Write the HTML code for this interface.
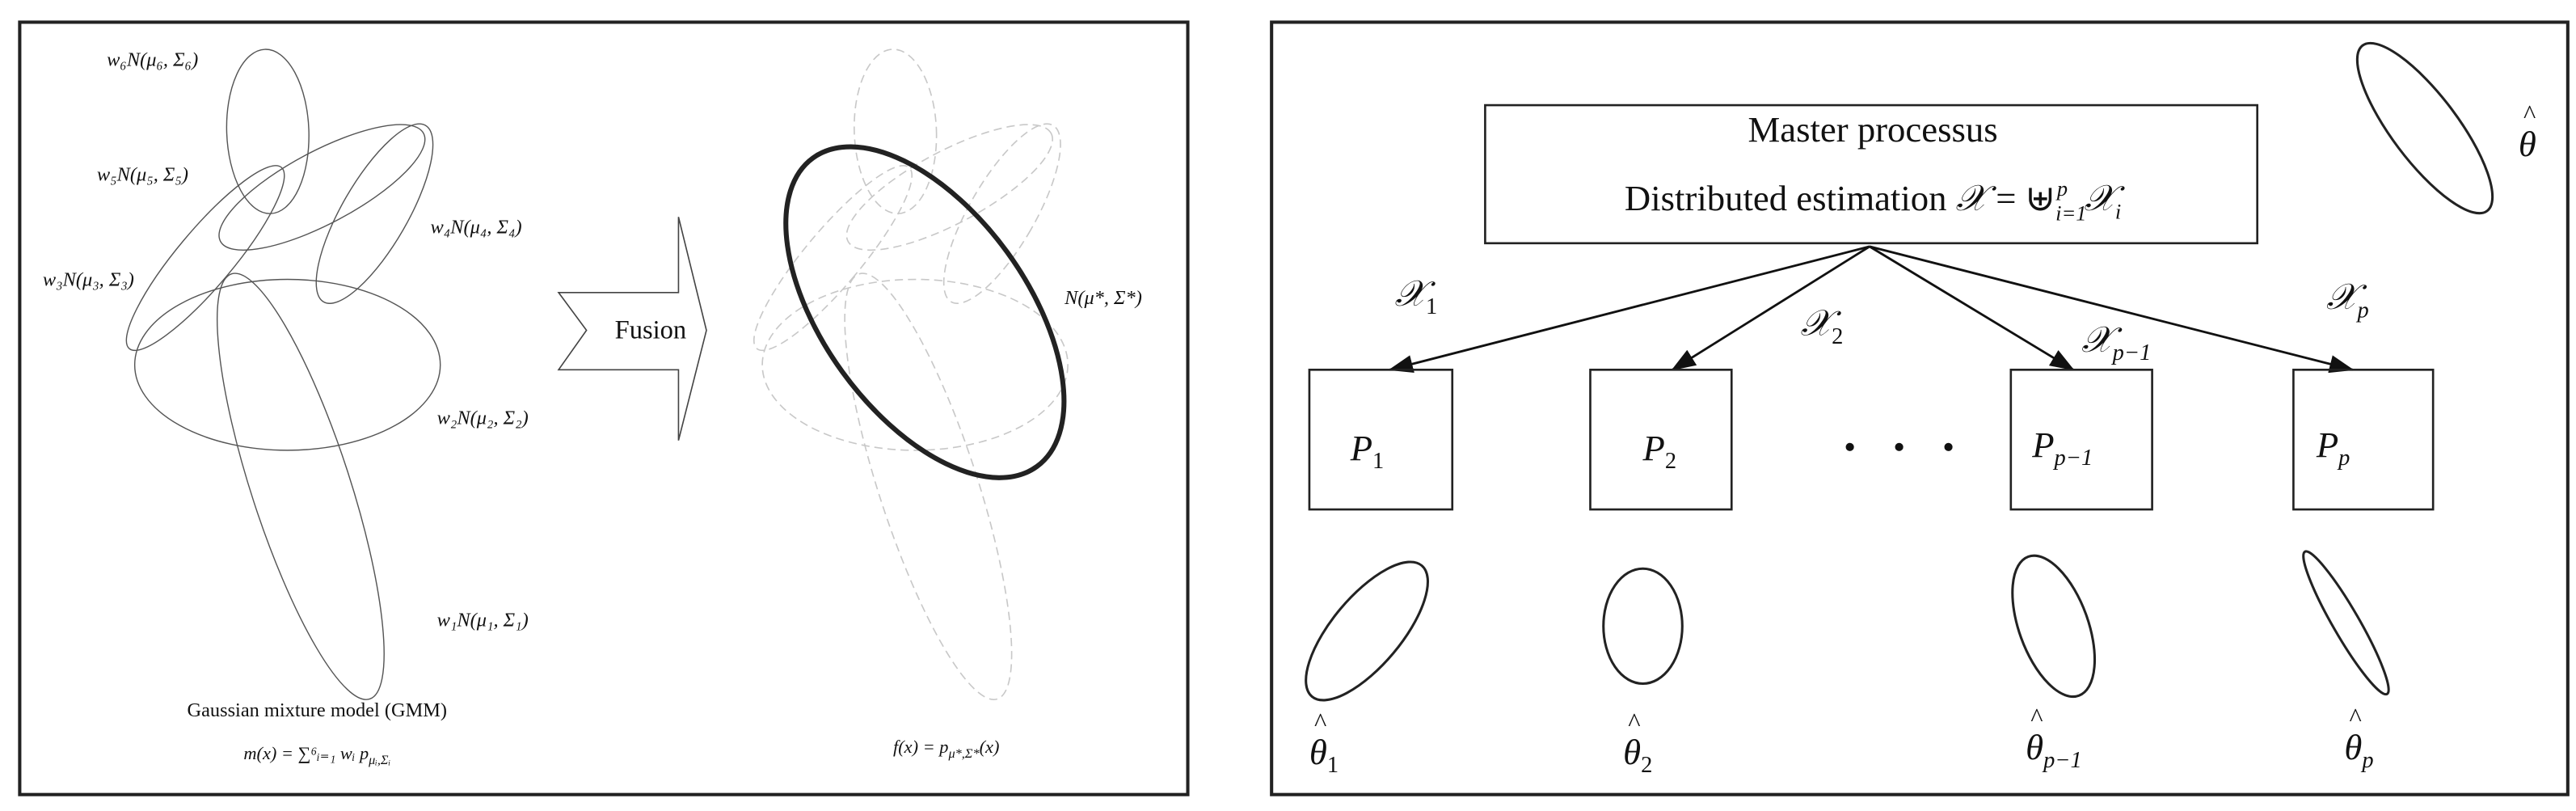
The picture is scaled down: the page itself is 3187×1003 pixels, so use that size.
<!DOCTYPE html>
<html><head><meta charset="utf-8"><style>
html,body{margin:0;padding:0;background:#fff;width:3187px;height:1003px;overflow:hidden}
svg text{font-family:"Liberation Serif","DejaVu Serif",serif;fill:#111}
</style></head><body>
<svg width="3187" height="1003" viewBox="0 0 1568 493.5" preserveAspectRatio="none" xmlns="http://www.w3.org/2000/svg">
<defs><marker id="ah" markerWidth="15" markerHeight="11" refX="14" refY="5.5" orient="auto" markerUnits="userSpaceOnUse" viewBox="0 0 15 11"><path d="M0,0 L15,5.5 L0,11 z" fill="#111"/></marker></defs>
<rect x="12" y="13.5" width="711" height="470" fill="none" stroke="#222" stroke-width="2"/>
<rect x="774" y="13.5" width="789" height="470" fill="none" stroke="#222" stroke-width="2"/>
<g fill="none" stroke="#555" stroke-width="0.7">
<ellipse cx="0" cy="0" rx="25" ry="50" transform="translate(163,80) rotate(-2)"/>
<ellipse cx="0" cy="0" rx="70" ry="22" transform="translate(196,114) rotate(-28)"/>
<ellipse cx="0" cy="0" rx="20" ry="62" transform="translate(228,130) rotate(30)"/>
<ellipse cx="0" cy="0" rx="17" ry="72" transform="translate(125,157) rotate(40)"/>
<ellipse cx="175" cy="222" rx="93" ry="52"/>
<ellipse cx="0" cy="0" rx="30" ry="136" transform="translate(183,296) rotate(-18)"/>
</g>
<g fill="none" stroke="#c8c8c8" stroke-width="0.8" stroke-dasharray="5,3" transform="translate(382,0)">
<ellipse cx="0" cy="0" rx="25" ry="50" transform="translate(163,80) rotate(-2)"/>
<ellipse cx="0" cy="0" rx="70" ry="22" transform="translate(196,114) rotate(-28)"/>
<ellipse cx="0" cy="0" rx="20" ry="62" transform="translate(228,130) rotate(30)"/>
<ellipse cx="0" cy="0" rx="17" ry="72" transform="translate(125,157) rotate(40)"/>
<ellipse cx="175" cy="222" rx="93" ry="52"/>
<ellipse cx="0" cy="0" rx="30" ry="136" transform="translate(183,296) rotate(-18)"/>
</g>
<ellipse cx="0" cy="0" rx="62" ry="116" transform="translate(563,190) rotate(-36)" fill="none" stroke="#222" stroke-width="3"/>
<g font-size="12" font-style="italic">
<text x="65" y="40">w₆N(μ₆, Σ₆)</text>
<text x="59" y="110">w₅N(μ₅, Σ₅)</text>
<text x="262" y="142">w₄N(μ₄, Σ₄)</text>
<text x="26" y="174">w₃N(μ₃, Σ₃)</text>
<text x="266" y="258">w₂N(μ₂, Σ₂)</text>
<text x="266" y="381">w₁N(μ₁, Σ₁)</text>
<text x="648" y="185">N(μ*, Σ*)</text>
</g>
<text x="193" y="436" font-size="12" text-anchor="middle">Gaussian mixture model (GMM)</text>
<text x="193" y="462" font-size="11" text-anchor="middle" font-style="italic">m(x) = ∑⁶ᵢ₌₁ wᵢ p<tspan font-size="8" dy="3">μᵢ,Σᵢ</tspan></text>
<text x="576" y="458" font-size="11" text-anchor="middle" font-style="italic">f(x) = p<tspan font-size="8" dy="3">μ*,Σ*</tspan><tspan dy="-3">(x)</tspan></text>
<polygon points="340,178 413,178 413,132 430,201 413,268 413,225 340,225 357,201" fill="#fff" stroke="#444" stroke-width="0.8"/>
<text x="396" y="206" font-size="16" text-anchor="middle">Fusion</text>
<rect x="904" y="64" width="470" height="84" fill="none" stroke="#222" stroke-width="1.3"/>
<text x="1140" y="86" font-size="22" text-anchor="middle">Master processus</text>
<text x="1140" y="128" font-size="22" text-anchor="middle">Distributed estimation <tspan font-style="italic">𝒳</tspan> = ⊎<tspan font-size="13" dy="6" font-style="italic">i=1</tspan><tspan font-size="13" dy="-15" dx="-18" font-style="italic">p</tspan><tspan dy="9" dx="10" font-style="italic">𝒳</tspan><tspan font-size="13" dy="5" font-style="italic">i</tspan></text>
<g stroke="#111" stroke-width="1.4" fill="none" marker-end="url(#ah)">
<line x1="1138" y1="150" x2="846" y2="225"/>
<line x1="1138" y1="150" x2="1018" y2="225"/>
<line x1="1138" y1="150" x2="1262" y2="225"/>
<line x1="1138" y1="150" x2="1432" y2="225"/>
</g>
<g fill="none" stroke="#222" stroke-width="1.3">
<rect x="797" y="225" width="87" height="85"/>
<rect x="968" y="225" width="86" height="85"/>
<rect x="1224" y="225" width="86" height="85"/>
<rect x="1396" y="225" width="85" height="85"/>
</g>
<g font-size="22" font-style="italic">
<text x="822" y="280">P<tspan font-size="14" font-style="normal" dy="5">1</tspan></text>
<text x="1000" y="280">P<tspan font-size="14" font-style="normal" dy="5">2</tspan></text>
<text x="1237" y="278">P<tspan font-size="14" dy="5">p−1</tspan></text>
<text x="1410" y="278">P<tspan font-size="14" dy="5">p</tspan></text>
<text x="849" y="186">𝒳<tspan font-size="14" font-style="normal" dy="5">1</tspan></text>
<text x="1096" y="204">𝒳<tspan font-size="14" font-style="normal" dy="5">2</tspan></text>
<text x="1267" y="214">𝒳<tspan font-size="14" dy="5">p−1</tspan></text>
<text x="1416" y="188">𝒳<tspan font-size="14" dy="5">p</tspan></text>
<text x="797" y="465">θ<tspan font-size="14" font-style="normal" dy="5">1</tspan></text>
<text x="988" y="465">θ<tspan font-size="14" font-style="normal" dy="5">2</tspan></text>
<text x="1233" y="462">θ<tspan font-size="14" dy="5">p−1</tspan></text>
<text x="1427" y="462">θ<tspan font-size="14" dy="5">p</tspan></text>
<text x="1533" y="95">θ</text>
</g>
<g font-size="16" font-style="normal">
<text x="800" y="445">^</text>
<text x="991" y="445">^</text>
<text x="1236" y="442">^</text>
<text x="1430" y="442">^</text>
<text x="1536" y="75">^</text>
</g>
<g fill="#111"><circle cx="1126" cy="272" r="2.5"/><circle cx="1156" cy="272" r="2.5"/><circle cx="1186" cy="272" r="2.5"/></g>
<g fill="none" stroke="#222" stroke-width="1.5">
<ellipse cx="0" cy="0" rx="21" ry="52" transform="translate(832,384) rotate(40)"/>
<ellipse cx="1000" cy="381" rx="24" ry="35"/>
<ellipse cx="0" cy="0" rx="21" ry="45" transform="translate(1250,381) rotate(-20)"/>
<ellipse cx="0" cy="0" rx="8" ry="50" transform="translate(1428,379) rotate(-30)"/>
<ellipse cx="0" cy="0" rx="20" ry="63" transform="translate(1476,78) rotate(-37)"/>
</g>
</svg>
</body></html>
